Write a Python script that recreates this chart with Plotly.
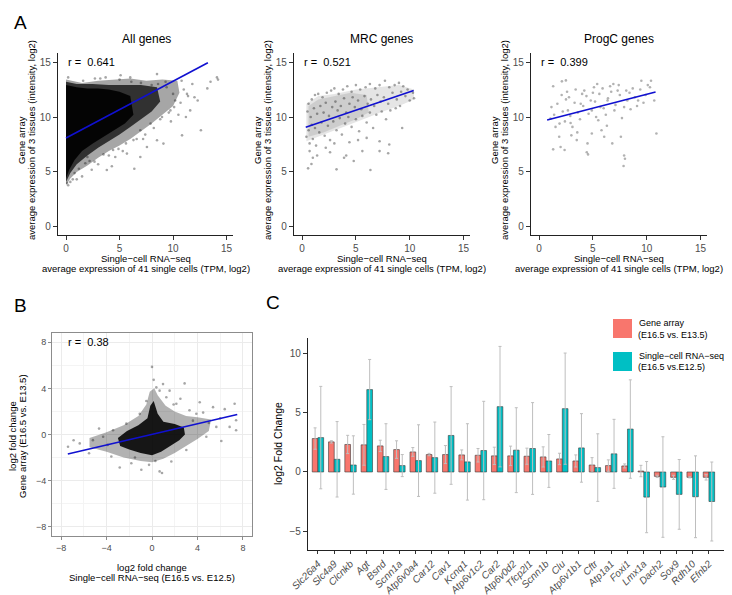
import plotly.graph_objects as go

# ---------------- data ----------------
# Panel A1 - All genes (dense cloud described by density outlines + sparse points)
all_outer_x = [0, 0.4, 1.0, 2.0, 3.0, 4.0, 5.0, 6.0, 7.0, 8.0, 9.0, 10.0, 10.6, 10.4, 9.0, 7.5, 6.0, 4.5, 3.0, 1.5, 0.5, 0]
all_outer_y = [3.8, 4.4, 5.0, 5.6, 6.3, 6.9, 7.4, 8.0, 8.7, 9.4, 10.2, 11.0, 12.2, 13.3, 13.4, 13.3, 13.5, 13.4, 13.3, 13.1, 13.3, 13.4]
all_mid_x = [0, 0.4, 1.0, 2.0, 3.0, 4.0, 5.0, 6.0, 7.0, 8.0, 8.8, 8.5, 7.0, 5.5, 4.0, 2.5, 1.0, 0]
all_mid_y = [4.1, 4.9, 5.7, 6.5, 7.2, 7.8, 8.4, 9.1, 9.8, 10.5, 11.4, 12.7, 12.9, 12.9, 12.9, 13.0, 13.0, 13.2]
all_core_x = [0, 0.3, 0.8, 1.5, 2.5, 3.5, 4.5, 5.5, 6.3, 6.0, 5.0, 4.0, 3.0, 2.0, 1.0, 0.3, 0]
all_core_y = [4.4, 5.2, 6.1, 6.9, 7.6, 8.2, 8.8, 9.4, 10.2, 11.9, 12.3, 12.5, 12.6, 12.6, 12.7, 12.8, 12.9]
all_pts_x = [0.63, 1.0, 0.2, 2.66, 2.0, 3.81, 4.28, 6.38, 4.6, 5.69, 6.94, 7.56, 8.5, 9.1, 10.84, 11.6, 11.3,
             11.8, 14.1, 14.2, 13.5, 10.8, 9.4, 8.5, 10.2, 9.75, 8.97, 7.9, 6.94, 6.3, 0.2, 6.0, 5.1, 3.2, 1.6,
             13.2, 12.3, 11.2, 12.6, 0.1, 0.4, 1.5, 3.0, 5.3, 7.2, 9.8, 10.5, 11.0, 12.0, 8.0, 2.4, 4.9,
             0.8, 1.2, 1.8, 2.2, 3.5, 4.0, 4.4, 5.6, 6.6, 7.4, 8.2, 8.8, 9.6, 10.1, 10.7, 11.4, 7.0, 8.6, 9.3,
             10.0, 6.1, 5.0, 3.7, 2.7]
all_pts_y = [4.33, 4.33, 3.8, 5.94, 6.36, 5.18, 5.52, 5.3, 6.36, 6.67, 6.36, 7.27, 7.88, 7.58, 8.33, 10.6, 12.1,
             13.0, 13.6, 13.4, 13.2, 13.3, 12.7, 13.9, 11.5, 10.6, 10.0, 9.4, 8.8, 7.9, 13.6, 13.6, 13.8, 13.5, 13.3,
             12.6, 11.5, 10.0, 8.8, 4.0, 4.1, 4.6, 5.7, 6.9, 8.0, 9.6, 10.2, 12.5, 11.8, 12.9, 5.2, 7.1,
             4.9, 5.3, 5.8, 6.0, 6.6, 6.5, 7.0, 7.6, 8.0, 8.4, 9.0, 9.8, 10.4, 10.9, 11.3, 11.9, 13.1, 13.0, 13.2,
             12.1, 13.2, 13.4, 13.6, 13.5]
all_fit_x = [0, 13.25]
all_fit_y = [8.09, 14.94]

# Panel A2 - MRC genes
mrc_core_x = [0.4, 1.5, 3.0, 4.5, 6.0, 7.5, 9.0, 10.4, 10.4, 9.0, 7.0, 5.0, 3.0, 1.5, 0.4]
mrc_core_y = [7.8, 8.2, 8.8, 9.3, 9.9, 10.5, 11.0, 11.6, 12.5, 12.9, 12.7, 12.5, 12.1, 11.9, 11.2]
mrc_dense_x = [0.6, 2.0, 3.5, 5.0, 6.2, 6.0, 4.5, 3.0, 1.5, 0.6]
mrc_dense_y = [8.2, 8.6, 9.2, 9.8, 10.4, 12.0, 12.2, 11.9, 11.6, 11.0]
mrc_pts_x = [0.6, 0.9, 1.2, 1.5, 1.9, 2.3, 2.7, 3.0, 3.4, 3.8, 4.2, 4.6, 5.0, 5.4, 5.9, 6.3, 6.8, 7.2, 7.7, 8.1,
             8.6, 9.0, 9.4, 9.8, 10.3, 10.4,
             0.5, 0.8, 1.1, 1.4, 1.7, 2.0, 2.2, 2.5, 2.8, 3.1, 3.3, 3.6, 3.9, 4.1, 4.4, 4.7, 4.9, 5.2, 5.5, 5.8,
             6.1, 6.4, 6.7, 7.0, 7.3, 7.6, 8.0, 8.4, 8.8, 9.2, 9.6, 10.0,
             0.4, 0.6, 0.7, 0.9, 1.0, 1.2, 1.3, 1.6, 1.8, 2.1, 2.4, 2.6, 2.9, 3.2, 3.5, 3.7, 4.0, 4.3, 4.6, 5.0,
             5.3, 5.6, 6.0, 6.3, 6.6, 6.9, 7.4, 7.8, 8.2, 8.7, 9.1,
             0.56, 0.87, 1.0, 0.7, 1.4, 3.2, 3.9, 4.1, 4.4, 6.35, 7.2, 8.0, 7.2, 8.1, 9.3, 2.2, 3.0, 5.2, 6.0,
             5.6, 4.8, 2.6]
mrc_pts_y = [11.2, 11.6, 12.0, 12.1, 11.8, 12.2, 12.4, 12.6, 12.1, 12.5, 12.8, 12.3, 12.9, 12.5, 12.7, 13.0, 12.6,
             12.9, 13.3, 12.7, 12.9, 13.1, 12.8, 12.5, 12.2, 11.7,
             10.5, 10.0, 10.8, 10.3, 11.0, 10.4, 11.3, 10.1, 10.9, 11.4, 10.6, 11.0, 11.7, 10.4, 11.2, 11.8, 10.9,
             11.5, 10.7, 11.9, 11.2, 11.6, 11.0, 12.0, 11.4, 11.8, 11.2, 12.2, 11.6, 12.3, 11.9, 11.5,
             8.2, 8.8, 7.6, 9.3, 8.0, 9.0, 7.4, 8.6, 9.5, 8.3, 9.2, 7.9, 9.6, 8.8, 9.9, 8.4, 9.4, 10.0, 9.1, 9.8,
             8.7, 10.1, 9.5, 10.4, 9.0, 10.2, 10.5, 9.8, 10.6, 10.8, 11.0,
             5.33, 5.72, 6.3, 6.9, 6.5, 5.24, 6.3, 6.5, 7.7, 5.18, 6.9, 6.7, 7.8, 7.5, 9.0, 7.2, 7.6, 7.9, 8.1,
             6.9, 6.0, 6.8]
mrc_fit_x = [0.34, 10.37]
mrc_fit_y = [9.06, 12.42]

# Panel A3 - ProgC genes
progc_pts_x = [1.15, 1.31, 1.31, 1.06, 1.53, 1.87, 2.0, 2.37, 2.12, 2.49, 2.78, 2.68, 2.93, 3.0, 3.55, 3.87, 4.0,
               4.5, 4.43, 4.55, 4.8, 5.1, 5.4, 5.3, 5.7, 6.05, 6.36, 6.8, 6.9, 7.3, 7.6, 7.9, 7.85, 7.98, 8.2,
               8.7, 9.2, 9.5, 10.1, 10.4, 10.9, 10.7,
               1.4, 1.7, 2.2, 2.5, 2.9, 3.3, 3.6, 4.1, 4.4, 4.9, 5.2, 5.6, 6.0, 6.4, 6.7, 7.1, 7.5, 7.9, 8.4,
               8.9, 9.4, 9.9, 10.3, 1.9, 2.4, 3.1, 3.8, 4.6, 5.5, 6.2, 7.0, 7.7, 8.5, 9.1, 9.7, 2.6, 3.4, 4.2,
               5.0, 5.9, 6.6, 7.4, 8.1, 3.5, 5.8, 6.3, 4.9, 2.1]
progc_pts_y = [10.9, 12.8, 7.06, 9.85, 9.1, 8.2, 7.27, 7.0, 13.24, 13.33, 11.8, 10.6, 9.45, 8.33, 8.6, 11.2, 12.1,
               7.6, 6.8, 6.6, 11.5, 12.7, 13.0, 10.0, 10.9, 8.2, 11.5, 7.6, 13.0, 12.4, 8.2, 6.5, 5.55, 6.2, 11.5,
               12.6, 11.5, 13.3, 12.9, 13.3, 8.5, 11.5,
               10.2, 11.2, 10.5, 11.6, 10.1, 11.3, 10.4, 11.0, 11.9, 10.6, 11.4, 12.1, 10.8, 11.7, 12.3, 11.1,
               12.0, 10.9, 12.2, 11.8, 12.5, 12.0, 12.7, 9.4, 9.6, 9.1, 9.8, 10.3, 9.7, 10.2, 10.6, 9.9, 10.7,
               11.0, 11.3, 12.3, 12.5, 12.4, 12.2, 12.6, 12.8, 12.9, 12.4, 7.9, 8.8, 9.2, 8.5, 12.0]
progc_fit_x = [0.75, 10.82]
progc_fit_y = [9.72, 12.27]

# Panel B - fold change comparison
fc_outer_x = [-5.5, -4, -2.5, -1, 0, 1, 2, 3, 4, 5, 5.2, 4, 3, 2, 1.2, 0.5, 0.2, -0.2, -0.5, -1.2, -2.5, -4, -5.5]
fc_outer_y = [-1.1, -1.5, -2.0, -2.3, -2.4, -2.1, -1.6, -1.0, -0.4, 0.3, 1.3, 1.5, 1.6, 2.0, 2.5, 3.4, 4.0, 3.7,
              2.6, 1.6, 0.8, 0.2, -0.3]
fc_core_x = [-2.8, -2, -1, 0, 0.8, 1.6, 2.4, 2.9, 2.8, 2.0, 1.0, 0.5, 0.15, -0.15, -0.4, -1.2, -2.2, -3.0]
fc_core_y = [-1.0, -1.3, -1.6, -1.8, -1.5, -1.0, -0.5, 0.0, 0.6, 0.9, 1.1, 1.8, 2.9, 2.5, 1.4, 0.8, 0.3, -0.3]
fc_pts_x = [0.0, 0.15, 0.38, 0.97, 2.87, 1.55, 4.2, 5.37, 7.27, 7.4, 7.4, 6.1, -4.66, -7.39, -6.36, -5.54, -3.58,
            -2.84, -1.82, -0.26, 0.67, 0.88, -0.94, 1.7, 3.02, 4.78, 5.66, 6.83, 3.9, 3.3, 2.14, 1.26, 0.67, -0.5,
            -1.08, -2.26, -3.43, -4.3, -5.2, 2.5, 3.6, 4.5, 6.0, -6.9, -3.9, -1.5, 0.3, 1.9, 5.0, 6.4]
fc_pts_y = [5.86, 4.74, 4.09, 4.37, 4.43, 3.8, 2.8, 2.37, 2.66, 1.23, 0.37, -0.57, 0.51, -1.06, -0.77, -1.63, -1.91,
            -2.86, -2.49, -2.63, -3.2, -3.34, -3.06, -2.34, -1.34, -0.2, 0.66, 0.66, 1.8, 2.1, 2.66, 3.23, 3.8, 2.9,
            1.8, 0.94, 0.37, -0.2, -0.49, 3.1, 1.2, 1.9, 1.4, -0.5, -0.9, -2.0, -2.3, 2.6, 1.0, 2.2]
fc_fit_x = [-7.41, 7.5]
fc_fit_y = [-1.69, 1.74]

# Panel C - marker genes
genes = ["Slc26a4", "Slc4a9", "Clcnkb", "Agt", "Bsnd", "Scnn1a", "Atp6v0a4", "Car12", "Cav1", "Kcnq1",
         "Atp6v1c2", "Car2", "Atp6v0d2", "Tfcp2l1", "Scnn1b", "Clu", "Atp6v1b1", "Cftr", "Atp1a1", "Foxi1",
         "Lmx1a", "Dach2", "Sox9", "Rdh10", "Efnb2"]
array_fc = [2.82, 2.54, 2.32, 2.29, 2.2, 1.89, 1.69, 1.47, 1.47, 1.44, 1.41, 1.36, 1.36, 1.33, 1.27, 1.1, 0.93,
            0.59, 0.54, 0.51, 0.08, -0.37, -0.45, -0.45, -0.45]
array_err = [0.9, 0.1, 0.77, 1.72, 0.48, 0.74, 0.37, 0.1, 0.76, 0.42, 0.57, 0.73, 0.82, 0.68, 0.85, 0.48, 0.51,
             0.62, 0.48, 0.17, 0.48, 0.1, 0.17, 0.05, 0.23]
scrna_fc = [2.9, 1.07, 0.59, 6.95, 1.3, 0.54, 0.96, 1.21, 3.08, 0.85, 1.81, 5.51, 1.84, 1.98, 0.93, 5.34, 2.03,
            0.37, 1.53, 3.62, -2.12, -1.27, -1.89, -2.09, -2.49]
scrna_err = [4.32, 3.18, 2.46, 2.54, 2.77, 0.93, 3.02, 3.0, 4.12, 3.22, 4.15, 5.08, 3.58, 3.87, 2.23, 4.69, 2.89,
             2.85, 2.91, 4.15, 3.0, 4.24, 2.94, 3.45, 3.33]

# ---------------- layout helpers (screen pixel -> paper) ----------------
# the page body adds an 8px margin, so the figure is 8px smaller and every
# screen position is shifted back by that offset
OFF = 8
W, H = 732 - OFF, 595 - OFF


def px(x):
    return (x - OFF) / W


def py(y):
    return 1 - (y - OFF) / H


FONT = "Liberation Sans, Arial, sans-serif"
TICK_GREY = "#4D4D4D"
CLOUD = "rgba(0,0,0,{})"
LINE_BLUE = "#1010D0"

fig = go.Figure()


def add_cloud(xs, ys, alpha, xa, ya):
    fig.add_trace(go.Scatter(x=xs, y=ys, mode="lines", fill="toself", line=dict(width=0),
                             fillcolor=CLOUD.format(alpha), xaxis=xa, yaxis=ya,
                             showlegend=False, hoverinfo="skip"))


def add_points(xs, ys, alpha, xa, ya, size=2.6):
    fig.add_trace(go.Scatter(x=xs, y=ys, mode="markers",
                             marker=dict(size=size, color=CLOUD.format(alpha), line=dict(width=0)),
                             xaxis=xa, yaxis=ya, showlegend=False))


def add_fit(xs, ys, xa, ya):
    fig.add_trace(go.Scatter(x=xs, y=ys, mode="lines", line=dict(color=LINE_BLUE, width=1.6),
                             xaxis=xa, yaxis=ya, showlegend=False))


# A1
add_cloud(all_outer_x, all_outer_y, 0.35, "x", "y")
add_cloud(all_mid_x, all_mid_y, 0.7, "x", "y")
add_cloud(all_core_x, all_core_y, 0.9, "x", "y")
add_points(all_pts_x, all_pts_y, 0.35, "x", "y")
add_fit(all_fit_x, all_fit_y, "x", "y")

# A2
add_cloud(mrc_core_x, mrc_core_y, 0.1, "x2", "y2")
add_cloud(mrc_dense_x, mrc_dense_y, 0.1, "x2", "y2")
add_points(mrc_pts_x, mrc_pts_y, 0.35, "x2", "y2")
add_fit(mrc_fit_x, mrc_fit_y, "x2", "y2")

# A3
add_points(progc_pts_x, progc_pts_y, 0.3, "x3", "y3")
add_fit(progc_fit_x, progc_fit_y, "x3", "y3")

# B
add_cloud(fc_outer_x, fc_outer_y, 0.3, "x4", "y4")
add_cloud(fc_core_x, fc_core_y, 0.88, "x4", "y4")
add_points(fc_pts_x, fc_pts_y, 0.35, "x4", "y4")
add_fit(fc_fit_x, fc_fit_y, "x4", "y4")

# C
err_style = dict(type="data", color="#BEBEBE", thickness=1, width=1.5)
fig.add_trace(go.Bar(x=genes, y=array_fc, error_y=dict(array=array_err, **err_style),
                     marker=dict(color="#F8766D", line=dict(color="#3a3a3a", width=0.6)),
                     xaxis="x5", yaxis="y5", showlegend=False))
fig.add_trace(go.Bar(x=genes, y=scrna_fc, error_y=dict(array=scrna_err, **err_style),
                     marker=dict(color="#00BFC4", line=dict(color="#3a3a3a", width=0.6)),
                     xaxis="x5", yaxis="y5", showlegend=False))

# ---------------- axes ----------------
classic = dict(showline=True, linecolor="#222222", linewidth=1.3, ticks="outside", ticklen=4,
               tickcolor="#333333", tickwidth=1, showgrid=False, zeroline=False, automargin=False,
               tickfont=dict(size=10, color=TICK_GREY, family=FONT))

a_dom_y = [py(235), py(53)]
a_x = dict(classic, range=[-0.75, 15.6], tickvals=[0, 5, 10, 15])
a_y = dict(classic, range=[-0.73, 15.82], tickvals=[0, 5, 10, 15])

bw = dict(showline=True, linecolor="#8C8C8C", linewidth=1, mirror=True, ticks="outside", ticklen=3,
          tickcolor="#8C8C8C", showgrid=True, gridcolor="#EBEBEB", gridwidth=1, zeroline=False,
          tickvals=[-8, -4, 0, 4, 8], range=[-8.8, 8.8], automargin=False,
          minor=dict(tickvals=[-6, -2, 2, 6], showgrid=True, gridcolor="#F4F4F4", gridwidth=0.6),
          tickfont=dict(size=9, color=TICK_GREY, family=FONT))

fig.update_layout(
    width=W, height=H, autosize=False,
    margin=dict(l=0, r=0, t=0, b=0, pad=0),
    paper_bgcolor="white", plot_bgcolor="white",
    font=dict(family=FONT, color="black"),
    barmode="group", bargap=0.3, bargroupgap=0,
    xaxis=dict(a_x, domain=[px(58), px(233)], anchor="y"),
    yaxis=dict(a_y, domain=a_dom_y, anchor="x"),
    xaxis2=dict(a_x, domain=[px(294), px(470)], anchor="y2"),
    yaxis2=dict(a_y, domain=a_dom_y, anchor="x2"),
    xaxis3=dict(a_x, domain=[px(531), px(707)], anchor="y3"),
    yaxis3=dict(a_y, domain=a_dom_y, anchor="x3"),
    xaxis4=dict(bw, domain=[px(52), px(252)], anchor="y4"),
    yaxis4=dict(bw, domain=[py(536), py(333)], anchor="x4"),
    xaxis5=dict(classic, domain=[px(308), px(728)], anchor="y5", range=[-0.61, 25.17],
                tickangle=-45, ticklen=3,
                tickfont=dict(size=10, color=TICK_GREY, family=FONT, style="italic")),
    yaxis5=dict(classic, domain=[py(550), py(338)], anchor="x5", range=[-6.58, 11.3],
                tickvals=[-5, 0, 5, 10]),
)

# ---------------- text ----------------
ann = []


def note(text, x, y, size=9.5, angle=0, xanchor="center", color="black", **kw):
    ann.append(dict(text=text, x=px(x), y=py(y), xref="paper", yref="paper", showarrow=False,
                    xanchor=xanchor, yanchor="middle", textangle=angle,
                    font=dict(size=size, color=color, family=FONT), **kw))


# panel letters
note("A", 20, 22, size=19)
note("B", 20, 306, size=19)
note("C", 273, 303, size=19)

# A panels
for cx, title, r, tx in [(146, "All genes", "0.641", 66), (382, "MRC genes", "0.521", 302),
                         (619, "ProgC genes", "0.399", 539)]:
    note(title, cx, 39, size=12)
    note("r =  " + r, tx, 62, size=11, xanchor="left")
    note("Single−cell RNA−seq", cx, 258, size=9.5)
    note("average expression of 41 single cells (TPM, log2)", cx, 268, size=9.5)

for x1 in [22, 258, 495]:
    note("Gene array", x1, 140, size=9.5, angle=-90)
    note("average expression of 3 tissues (intensity, log2)", x1 + 10, 140, size=9.5, angle=-90)

# B
note("r =  0.38", 66, 342, size=11, xanchor="left")
note("log2 fold change", 152, 567, size=9.5)
note("Single−cell RNA−seq (E16.5 vs. E12.5)", 152, 577, size=9.5)
note("log2 fold change", 12, 436, size=9.5, angle=-90)
note("Gene array (E16.5 vs. E13.5)", 22, 436, size=9.5, angle=-90)

# C
note("log2 Fold Change", 278, 444, size=10.5, angle=-90)
note("Gene array", 637, 323, size=9, xanchor="left")
note("(E16.5 vs. E13.5)", 636, 335, size=9, xanchor="left")
note("Single−cell RNA−seq", 637, 356, size=9, xanchor="left")
note("(E16.5 vs.E12.5)", 636, 367, size=9, xanchor="left")

fig.update_layout(annotations=ann)

# legend swatches for panel C
fig.update_layout(shapes=[
    dict(type="rect", xref="paper", yref="paper", x0=px(613), x1=px(632), y0=py(338), y1=py(319),
         fillcolor="#F8766D", line=dict(width=0)),
    dict(type="rect", xref="paper", yref="paper", x0=px(613), x1=px(632), y0=py(371), y1=py(352),
         fillcolor="#00BFC4", line=dict(width=0)),
])

fig.write_html("out.html")
